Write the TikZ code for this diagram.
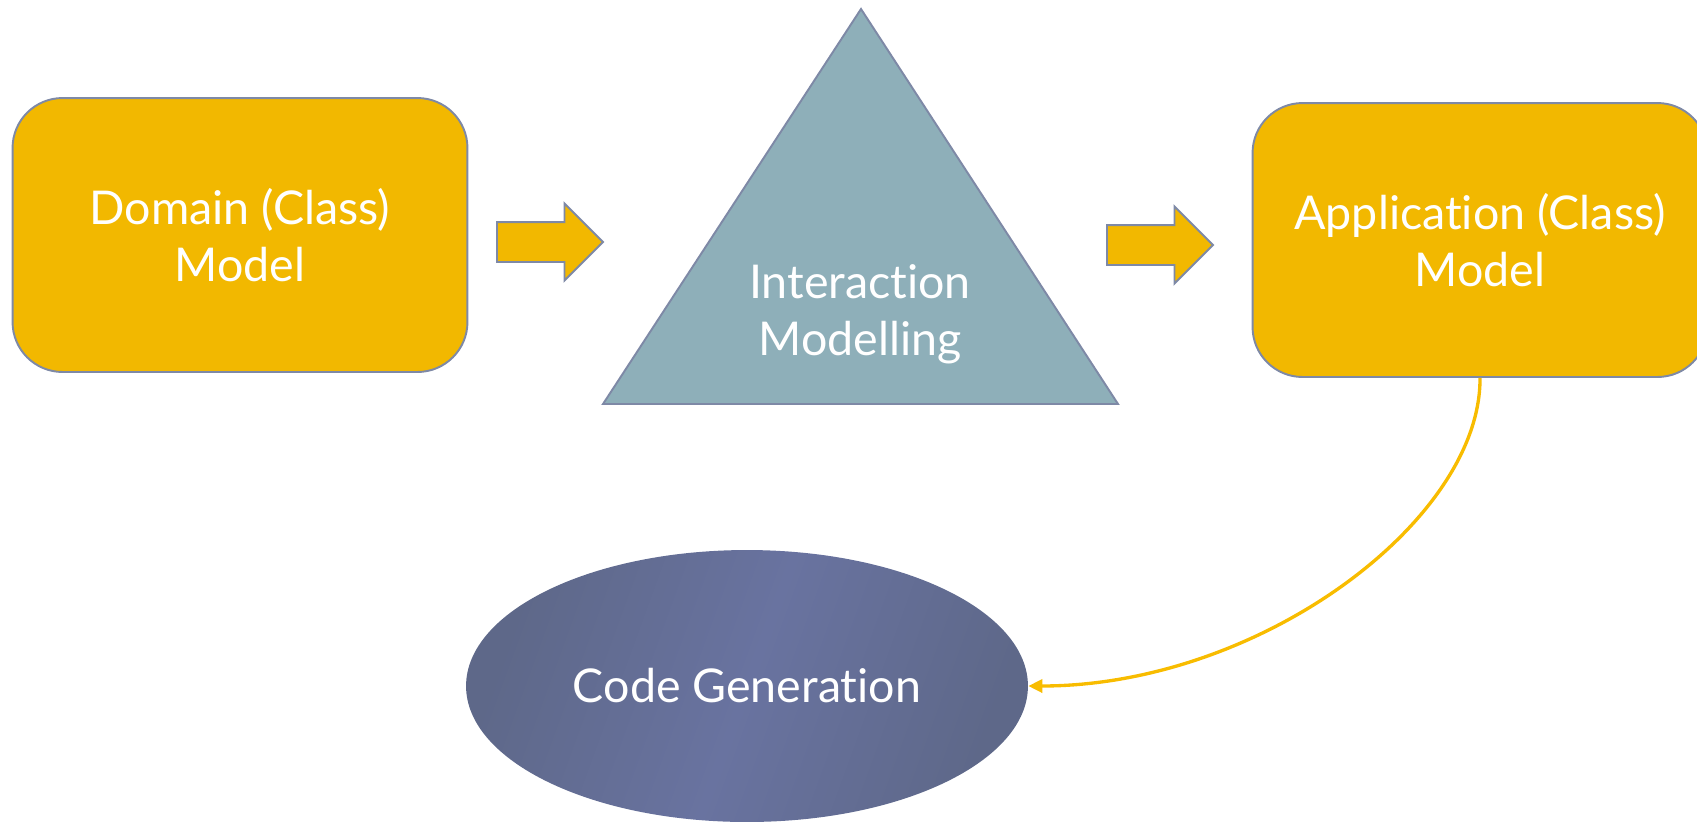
\documentclass[tikz,border=0pt]{standalone}
\usepackage{fontspec}
\setmainfont{Lato}[RawFeature=-liga]
\usepackage{xcolor}
\usetikzlibrary{shapes.geometric,shapes.arrows,arrows.meta}
\definecolor{gold}{HTML}{F2B800}
\definecolor{edgeblue}{HTML}{7E89A6}
\definecolor{slate}{HTML}{8EAFB9}
\definecolor{navydark}{HTML}{5E6889}
\definecolor{navylight}{HTML}{6973A0}
\definecolor{curvegold}{HTML}{F8BC00}
\tikzstyle{model} = [draw=edgeblue, line width=1.1pt, fill=gold, rounded corners=1cm, minimum width=9.1cm, minimum height=5.48cm]
\tikzstyle{flow} = [single arrow, draw=edgeblue, line width=1.1pt, fill=gold, minimum height=2.12cm, single arrow head extend=0.37cm, single arrow tip angle=90, inner xsep=0pt, inner ysep=0.38cm]

\begin{document}
\begin{tikzpicture}[x=0.02cm,y=-0.02cm]
			\tikzset{every node/.style={align=center, text=white, font=\fontsize{26.5}{32.5}\selectfont}}
\clip (0,0) rectangle (1697,823);

\node[model] (dom) at (240,235) {Domain (Class)\\Model};
\node[model] (app) at (1480,240) {Application (Class)\\Model};

\draw[draw=edgeblue, line width=1.1pt, fill=slate] (861,9) -- (1118,404) -- (603,404) -- cycle;
\node (inter) at (860,314) {Interaction\\Modelling};

\node[flow] (a1) at (540,242) {};
\node[flow] (a2) at (1150,245) {};

\node[ellipse, minimum width=11.24cm, minimum height=5.44cm, inner sep=0pt,
	left color=navydark, right color=navydark, middle color=navylight, shading angle=70] (code) at (747,686) {Code Generation};

\draw[curvegold, line width=1.9pt, -{Triangle[length=0.28cm,width=0.26cm]}]
	(app.south) .. controls (1481,520) and (1260,686) .. (code.east);

		\end{tikzpicture}
\end{document}
